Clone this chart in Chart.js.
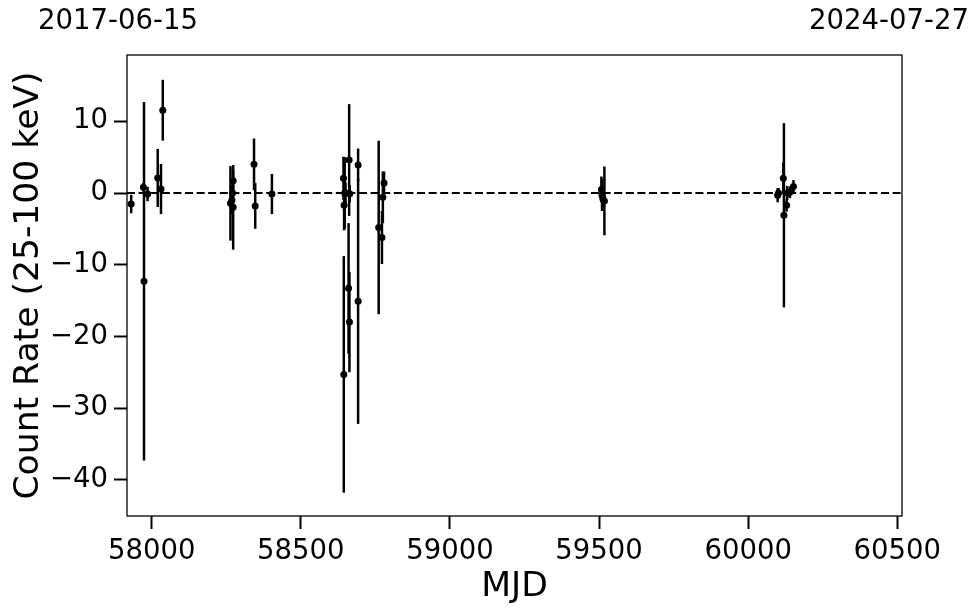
<!DOCTYPE html>
<html>
<head>
<meta charset="utf-8">
<script src="https://cdn.jsdelivr.net/npm/chart.js@4"></script>
<style>
  html, body { margin: 0; padding: 0; background: #fff; }
  #wrap { width: 980px; height: 613px; position: relative; }
</style>
</head>
<body>
<div id="wrap"><canvas id="c" width="980" height="613"></canvas></div>
<script>
// ---- data ----
const mjd = [
  57931, 57972, 57974, 57986, 58020, 58031, 58037,
  58264, 58269, 58271, 58273, 58273,
  58343, 58347, 58403,
  58643, 58644, 58645, 58647, 58650, 58660, 58662, 58663, 58664, 58692, 58692,
  58761, 58772, 58775, 58779,
  59508, 59510, 59513, 59518,
  60099, 60102, 60118, 60120, 60129, 60131, 60140, 60152
];
const rate = [
  -1.54, 0.8, -12.3, -0.14, 2.1, 0.56, 11.55,
  -1.44, -0.98, 0.0, -2.0, 1.7,
  4.0, -1.8, -0.14,
  2.05, -25.3, -1.7, 0.0, 0.0, -13.3, 4.6, -18.0, -0.1, 3.9, -15.1,
  -4.8, -6.2, -0.6, 1.4,
  0.5, -0.3, -0.8, -1.1,
  -0.3, 0.0, 2.05, -3.1, -1.7, 0.0, 0.1, 0.9
];
const rateErr = [
  1.28, 0.6, 25.0, 1.0, 4.05, 3.5, 4.24,
  5.2, 2.0, 1.2, 5.9, 1.5,
  3.6, 3.2, 2.8,
  3.0, 16.5, 3.5, 5.0, 1.5, 9.1, 7.8, 7.0, 1.2, 2.3, 17.1,
  12.1, 3.7, 3.6, 1.6,
  1.8, 2.2, 1.2, 4.8,
  1.0, 0.7, 2.2, 12.85, 0.9, 1.0, 0.8, 0.9
];
const xTicks = [58000, 58500, 59000, 59500, 60000, 60500];
const yTicks = [-40, -30, -20, -10, 0, 10];
const xRange = [57917, 60516];
const yRange = [-45.05, 19.25];
const dateLabels = ['2017-06-15', '2024-07-27'];
const xTitle = 'MJD';
const yTitle = 'Count Rate (25-100 keV)';

const FONT = "'DejaVu Sans', sans-serif";

const points = mjd.map((m, i) => ({ x: m, y: rate[i], e: rateErr[i] }));

const extras = {
  id: 'extras',
  beforeDatasetsDraw(chart) {
    const { ctx, chartArea: a, scales: { x, y } } = chart;
    ctx.save();
    ctx.beginPath();
    ctx.rect(a.left, a.top, a.right - a.left, a.bottom - a.top);
    ctx.clip();
    // zero line
    const y0 = y.getPixelForValue(0);
    ctx.strokeStyle = '#000';
    ctx.lineWidth = 2;
    ctx.setLineDash([8, 3.6]);
    ctx.beginPath();
    ctx.moveTo(a.left, y0);
    ctx.lineTo(a.right, y0);
    ctx.stroke();
    ctx.setLineDash([]);
    // error bars
    ctx.lineWidth = 2.5;
    points.forEach(p => {
      const px = x.getPixelForValue(p.x);
      ctx.beginPath();
      ctx.moveTo(px, y.getPixelForValue(p.y - p.e));
      ctx.lineTo(px, y.getPixelForValue(p.y + p.e));
      ctx.stroke();
    });
    ctx.restore();
  },
  afterDraw(chart) {
    const { ctx, chartArea: a } = chart;
    ctx.save();
    ctx.strokeStyle = '#000';
    ctx.lineWidth = 1.3;
    ctx.strokeRect(a.left, a.top, a.right - a.left, a.bottom - a.top);
    ctx.fillStyle = '#000';
    ctx.font = '27.5px ' + FONT;
    ctx.textAlign = 'center';
    ctx.textBaseline = 'middle';
    ctx.fillText(dateLabels[0], 118, 22);
    ctx.fillText(dateLabels[1], 889, 22);
    ctx.restore();
  }
};

const fmt = v => (v < 0 ? '\u2212' + Math.abs(v) : String(v));

new Chart(document.getElementById('c'), {
  type: 'scatter',
  data: {
    datasets: [{
      data: points,
      backgroundColor: '#000',
      borderColor: '#000',
      pointRadius: 3.5,
      pointHoverRadius: 3.5,
      borderWidth: 0
    }]
  },
  options: {
    responsive: false,
    animation: false,
    events: [],
    layout: { padding: { left: 0, right: 78, top: 55, bottom: 0 } },
    plugins: { legend: { display: false }, tooltip: { enabled: false } },
    scales: {
      x: {
        type: 'linear',
        min: xRange[0], max: xRange[1],
        afterFit(s) { s.height = 97; },
        afterBuildTicks(s) { s.ticks = xTicks.map(v => ({ value: v })); },
        border: { display: false },
        grid: { drawOnChartArea: false, drawTicks: true, tickLength: 13, tickWidth: 2, tickColor: '#000' },
        ticks: { color: '#000', font: { family: FONT, size: 27.5 }, padding: 6, maxRotation: 0, callback: v => String(v) },
        title: { display: true, text: xTitle, color: '#000', font: { family: FONT, size: 34.6 }, padding: { top: 0, bottom: 5 } }
      },
      y: {
        type: 'linear',
        min: yRange[0], max: yRange[1],
        afterFit(s) { s.width = 127; },
        afterBuildTicks(s) { s.ticks = yTicks.map(v => ({ value: v })); },
        border: { display: false },
        grid: { drawOnChartArea: false, drawTicks: true, tickLength: 13, tickWidth: 2, tickColor: '#000' },
        ticks: { color: '#000', font: { family: FONT, size: 27.5 }, padding: 6, callback: v => fmt(v) },
        title: { display: true, text: yTitle, color: '#000', font: { family: FONT, size: 34.6 }, padding: { top: 8, bottom: 0 } }
      }
    }
  },
  plugins: [extras]
});
</script>
</body>
</html>
